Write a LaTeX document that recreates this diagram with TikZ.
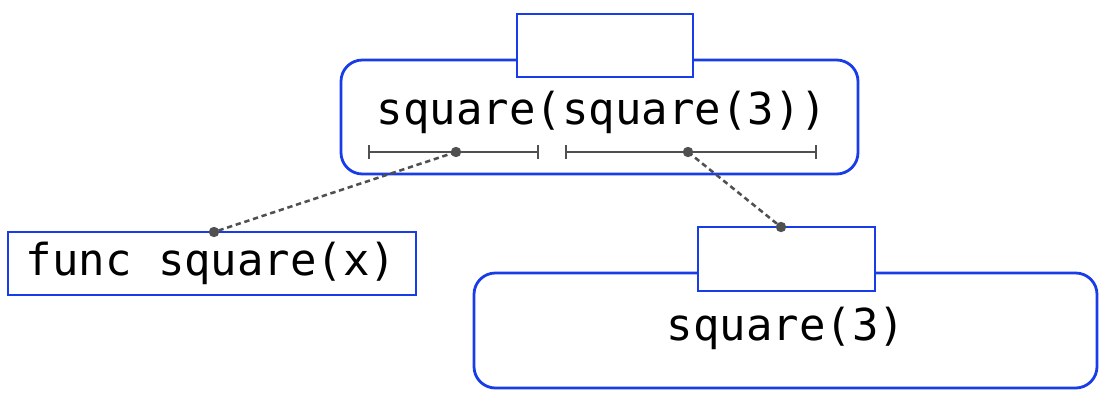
\documentclass[tikz,border=0pt]{standalone}
\usepackage{fontspec}
\setmonofont{DejaVu Sans Mono}
\usetikzlibrary{arrows.meta}
\definecolor{frameblue}{RGB}{24,60,232}
\definecolor{wire}{RGB}{80,80,80}
\tikzset{
  frame/.style={draw=frameblue, line width=2.1pt, fill=white},
  code/.style={font=\ttfamily\fontsize{33}{40}\selectfont, inner sep=0pt, anchor=center},
  span/.style={draw=wire, line width=2pt, {Bar[width=10pt,line width=1.8pt]}-{Bar[width=10pt,line width=1.8pt]}},
  link/.style={draw=wire, line width=1.9pt, dash pattern=on 4pt off 2.8pt},
  pin/.style={fill=wire, draw=none},
}
\begin{document}
\begin{tikzpicture}[x=0.75pt,y=-0.75pt]
  \useasboundingbox (0,0) rectangle (1109,400);
  % outer call frame
  \draw[frame, rounded corners=16pt] (341,60) rectangle (858,174);
  \draw[frame] (517,14) rectangle (693,77);
  \node[code] (outer) at (602,112) {square(square(3))};
  % argument spans
  \coordinate (fs) at (368,152); \coordinate (fe) at (539,152);
  \coordinate (as) at (565,152); \coordinate (ae) at (817,152);
  \draw[span] (fs) -- (fe);
  \draw[span] (as) -- (ae);
  \coordinate (fdot) at (456,152);
  \coordinate (adot) at (688,152);
  % function definition
  \draw[frame] (8,232) rectangle (416,295);
  \node[code] (func) at (211,263) {func square(x)};
  \coordinate (funcpin) at (214,232);
  % inner call frame
  \draw[frame, rounded corners=16pt] (474,273) rectangle (1097,388);
  \draw[frame] (698,227) rectangle (875,291);
  \node[code] (inner) at (786,328) {square(3)};
  \coordinate (innerpin) at (781,227);
  % links
  \draw[link] (fdot) -- (funcpin);
  \draw[link] (adot) -- (innerpin);
  \foreach \p in {fdot,adot,funcpin,innerpin}
    \fill[pin] (\p) circle (3.9pt);
\end{tikzpicture}
\end{document}
